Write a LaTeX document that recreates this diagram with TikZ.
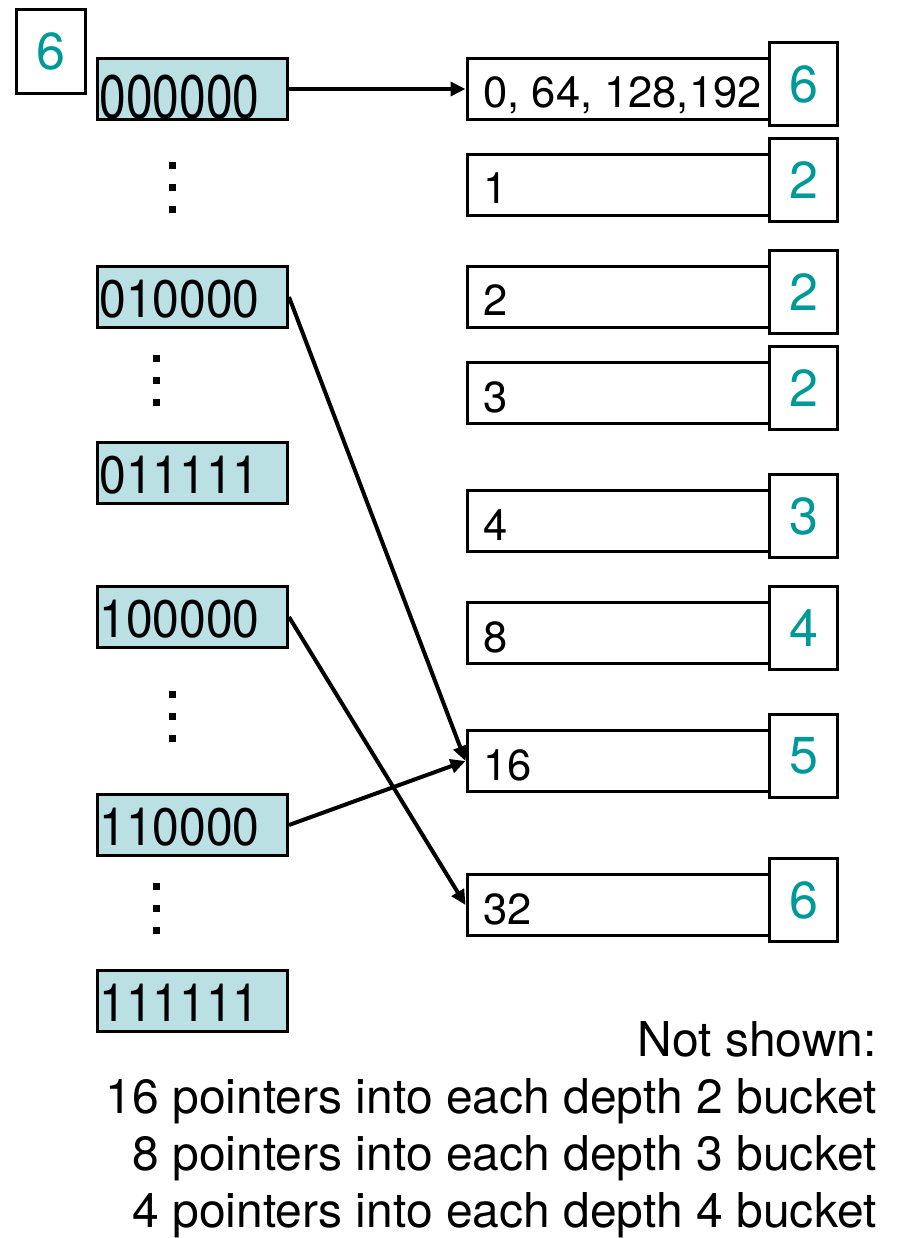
\documentclass[tikz,border=0pt]{standalone}
\usepackage{fontspec}
\setmainfont{TeX Gyre Heros}
\usetikzlibrary{arrows.meta}
\definecolor{depthteal}{RGB}{0,153,153}
\definecolor{dirfill}{RGB}{187,224,227}
\newcommand{\bits}[2][1.1]{\makebox[186pt][l]{\scalebox{1}[#1]{#2}}}
\newcommand{\keys}[1]{\makebox[271pt][l]{#1}}

\begin{document}
\begin{tikzpicture}[x=1pt,y=-1pt,
    dirbox/.style={draw, line width=3pt, fill=dirfill, minimum width=190pt, minimum height=61pt,
        inner xsep=2pt, inner ysep=0pt, text height=45pt, text depth=5pt,
        font=\fontsize{48}{52}\selectfont},
    bucket/.style={draw, line width=3pt, fill=white, anchor=west, minimum width=304pt,
        minimum height=61pt, inner xsep=16.5pt, inner ysep=0pt, text height=45pt, text depth=7pt,
        font=\fontsize{43.5}{50}\selectfont},
    depthbox/.style={draw, line width=3pt, fill=white, minimum width=68pt, minimum height=83pt,
        text=depthteal, font=\fontsize{52}{56}\selectfont},
    pointer/.style={line width=4pt, -{Triangle[length=15pt,width=14pt]}},
    note/.style={anchor=base east, inner sep=0pt, font=\fontsize{48}{57}\selectfont}]
        \useasboundingbox (0,0) rectangle (903,1238);

        % Global depth
        \node[depthbox, minimum width=69pt, minimum height=84pt] (global) at (51,51.5) {6};

        % Directory
        \node[dirbox, text height=60pt, text depth=0pt] (d0) at (192.5,89) {\bits[1.28]{000000}};
        \node[dirbox] (d16) at (192.5,297) {\bits{010000}};
        \node[dirbox] (d31) at (192.5,473) {\bits{011111}};
        \node[dirbox] (d32) at (192.5,617) {\bits{100000}};
        \node[dirbox] (d48) at (192.5,825) {\bits{110000}};
        \node[dirbox] (d63) at (192.5,1001) {\bits{111111}};

        % Dots between directory entries
        \foreach \x/\y in {172/188, 156/380, 172/716, 156/908}
            \foreach \dy in {-22,0,22}
                \fill (\x-3.5,\y+\dy-3.5) rectangle ++(7,7);

        % Buckets
        \node[bucket] (b0) at (465.5,89) {\keys{0, 64, 128,192}};
        \node[bucket] (b1) at (465.5,185) {\keys{1}};
        \node[bucket] (b2) at (465.5,297) {\keys{2}};
        \node[bucket] (b3) at (465.5,393) {\keys{3}};
        \node[bucket] (b4) at (465.5,521) {\keys{4}};
        \node[bucket] (b8) at (465.5,633) {\keys{8}};
        \node[bucket] (b16) at (465.5,761) {\keys{16}};
        \node[bucket] (b32) at (465.5,905) {\keys{32}};

        % Local depths
        \node[depthbox] (l0) at (803.5,84) {6};
        \node[depthbox] (l1) at (803.5,180) {2};
        \node[depthbox] (l2) at (803.5,292) {2};
        \node[depthbox] (l3) at (803.5,388) {2};
        \node[depthbox] (l4) at (803.5,516) {3};
        \node[depthbox] (l8) at (803.5,628) {4};
        \node[depthbox] (l16) at (803.5,756) {5};
        \node[depthbox] (l32) at (803.5,900) {6};

        % Pointers
        \draw[pointer] (d0.east) -- (b0.west);
        \draw[pointer] (d16.east) -- (b16.west);
        \draw[pointer] (d32.east) -- (b32.west);
        \draw[pointer] (d48.east) -- (b16.west);

        % Note
        \node[note] (n1) at (877,1056) {Not shown:};
        \node[note] (n2) at (877,1113) {16 pointers into each depth 2 bucket};
        \node[note] (n3) at (877,1170) {8 pointers into each depth 3 bucket};
        \node[note] (n4) at (877,1227) {4 pointers into each depth 4 bucket};
    \end{tikzpicture}
\end{document}
